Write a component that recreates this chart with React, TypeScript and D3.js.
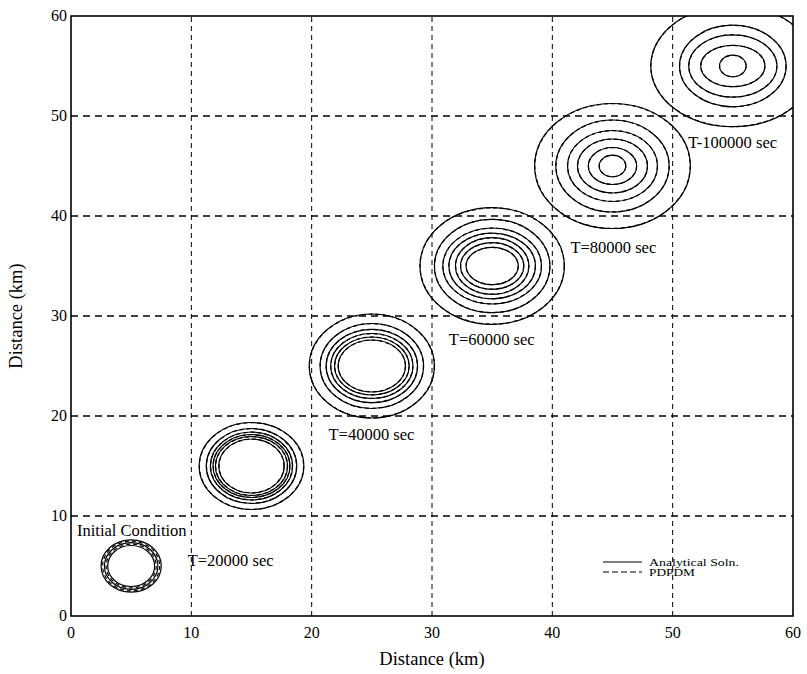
import React from "react";
import * as d3 from "d3";

// Plume centres (km), same coordinate on both axes
const plumeCenters = [5, 15, 25, 35, 45, 55];

const plumeLabels = [
  "Initial Condition",
  "T=20000 sec",
  "T=40000 sec",
  "T=60000 sec",
  "T=80000 sec",
  "T-100000 sec",
];

// Label anchor (km): left edge x, baseline y
const labelX = [0.5, 9.7, 21.4, 31.4, 41.5, 51.3];
const labelY = [8.0, 5.0, 17.6, 27.1, 36.3, 46.8];

// Analytical solution contours, [rx, ry] in km
const analyticContours: [number, number][][] = [
  [[2.5, 2.62], [2.22, 2.33], [1.95, 2.05]],
  [[4.35, 4.35], [3.76, 3.75], [3.42, 3.4], [3.2, 3.15], [3.0, 2.95], [2.72, 2.7]],
  [[5.2, 5.2], [4.3, 4.25], [3.8, 3.67], [3.42, 3.25], [3.1, 2.9], [2.8, 2.6]],
  [[6.0, 5.83], [4.8, 4.67], [4.1, 3.8], [3.6, 3.28], [3.05, 2.83], [2.63, 2.33], [2.17, 1.87]],
  [[6.47, 6.25], [4.71, 4.6], [3.74, 3.55], [2.91, 2.7], [2.01, 1.85], [1.11, 1.08]],
  [[6.82, 6.07], [4.43, 4.08], [3.67, 3.12], [2.67, 2.07], [1.11, 1.08]],
];

// PDPDM contours, [rx, ry] in km
const pdpdmContours: [number, number][][] = [
  [[2.37, 2.48], [2.08, 2.19]],
  [[4.33, 4.34], [3.74, 3.73], [3.4, 3.38], [3.18, 3.13], [2.98, 2.93], [2.7, 2.68]],
  [[5.19, 5.18], [4.29, 4.24], [3.79, 3.66], [3.41, 3.24], [3.09, 2.89], [2.79, 2.59]],
  [[5.99, 5.82], [4.79, 4.66], [4.09, 3.79], [3.59, 3.27], [3.04, 2.82], [2.62, 2.32], [2.16, 1.86]],
  [[6.46, 6.24], [4.7, 4.59], [3.73, 3.54], [2.9, 2.69], [2.0, 1.84], [1.1, 1.07]],
  [[6.81, 6.06], [4.42, 4.07], [3.66, 3.11], [2.66, 2.06], [1.1, 1.07]],
];

const tickValues = [0, 10, 20, 30, 40, 50, 60];
const gridValues = [10, 20, 30, 40, 50];

const legendItems = [
  { label: "Analytical Soln.", dash: "none", width: 90 },
  { label: "PDPDM", dash: "6,3", width: 46 },
];

const W = 807;
const H = 674;
const margin = { left: 71, right: 14, top: 16, bottom: 58 };
const FONT = "'Liberation Serif', 'Times New Roman', serif";

export default function App() {
  const x = d3.scaleLinear().domain([0, 60]).range([margin.left, W - margin.right]);
  const y = d3.scaleLinear().domain([0, 60]).range([H - margin.bottom, margin.top]);
  const [x0, x1] = x.range();
  const [y0, y1] = y.range();

  const ellipses = (
    set: [number, number][][],
    dash: string,
    keyPrefix: string
  ) =>
    set.flatMap((rings, i) =>
      rings.map(([rx, ry], j) => (
        <ellipse
          key={`${keyPrefix}-${i}-${j}`}
          cx={x(plumeCenters[i])}
          cy={y(plumeCenters[i])}
          rx={x(rx) - x(0)}
          ry={y(0) - y(ry)}
          fill="none"
          stroke="#000"
          strokeWidth={1.2}
          strokeDasharray={dash}
        />
      ))
    );

  return (
    <svg
      width={W}
      height={H}
      style={{ position: "absolute", left: 0, top: 0, background: "#fff" }}
      fontFamily={FONT}
    >
      <defs>
        <clipPath id="plotArea">
          <rect x={x0} y={y1} width={x1 - x0} height={y0 - y1} />
        </clipPath>
      </defs>

      {/* grid */}
      {gridValues.map((v) => (
        <line
          key={`gv-${v}`}
          x1={x(v)}
          x2={x(v)}
          y1={y0}
          y2={y1}
          stroke="#000"
          strokeWidth={1}
          strokeDasharray="5,4"
        />
      ))}
      {gridValues.map((v) => (
        <line
          key={`gh-${v}`}
          x1={x0}
          x2={x1}
          y1={y(v)}
          y2={y(v)}
          stroke="#000"
          strokeWidth={1.6}
          strokeDasharray="7,5"
        />
      ))}

      {/* contours */}
      <g clipPath="url(#plotArea)">
        {ellipses(analyticContours, "none", "a")}
        {ellipses(pdpdmContours, "4,3", "p")}
      </g>

      {/* frame */}
      <rect
        x={x0}
        y={y1}
        width={x1 - x0}
        height={y0 - y1}
        fill="none"
        stroke="#000"
        strokeWidth={1.6}
      />

      {/* tick labels */}
      {tickValues.map((v) => (
        <text
          key={`xt-${v}`}
          x={x(v)}
          y={y0 + 22}
          fontSize={16}
          textAnchor="middle"
        >
          {v}
        </text>
      ))}
      {tickValues.map((v) => (
        <text
          key={`yt-${v}`}
          x={x0 - 4}
          y={y(v) + 5}
          fontSize={16}
          textAnchor="end"
        >
          {v}
        </text>
      ))}

      {/* axis titles */}
      <text x={(x0 + x1) / 2} y={H - 9} fontSize={18.5} textAnchor="middle">
        Distance (km)
      </text>
      <text
        transform={`translate(${22},${(y0 + y1) / 2}) rotate(-90)`}
        fontSize={18.5}
        textAnchor="middle"
      >
        Distance (km)
      </text>

      {/* plume labels */}
      {plumeLabels.map((t, i) => (
        <text key={`lab-${i}`} x={x(labelX[i])} y={y(labelY[i])} fontSize={16.5}>
          {t}
        </text>
      ))}

      {/* legend */}
      {legendItems.map((item, i) => (
        <g key={`leg-${i}`} transform={`translate(603,${562 + i * 10})`}>
          <line
            x1={0}
            x2={39}
            y1={0}
            y2={0}
            stroke="#000"
            strokeWidth={1.2}
            strokeDasharray={item.dash}
          />
          <text
            x={46}
            y={3.5}
            fontSize={10.5}
            textLength={item.width}
            lengthAdjust="spacingAndGlyphs"
          >
            {item.label}
          </text>
        </g>
      ))}
    </svg>
  );
}
